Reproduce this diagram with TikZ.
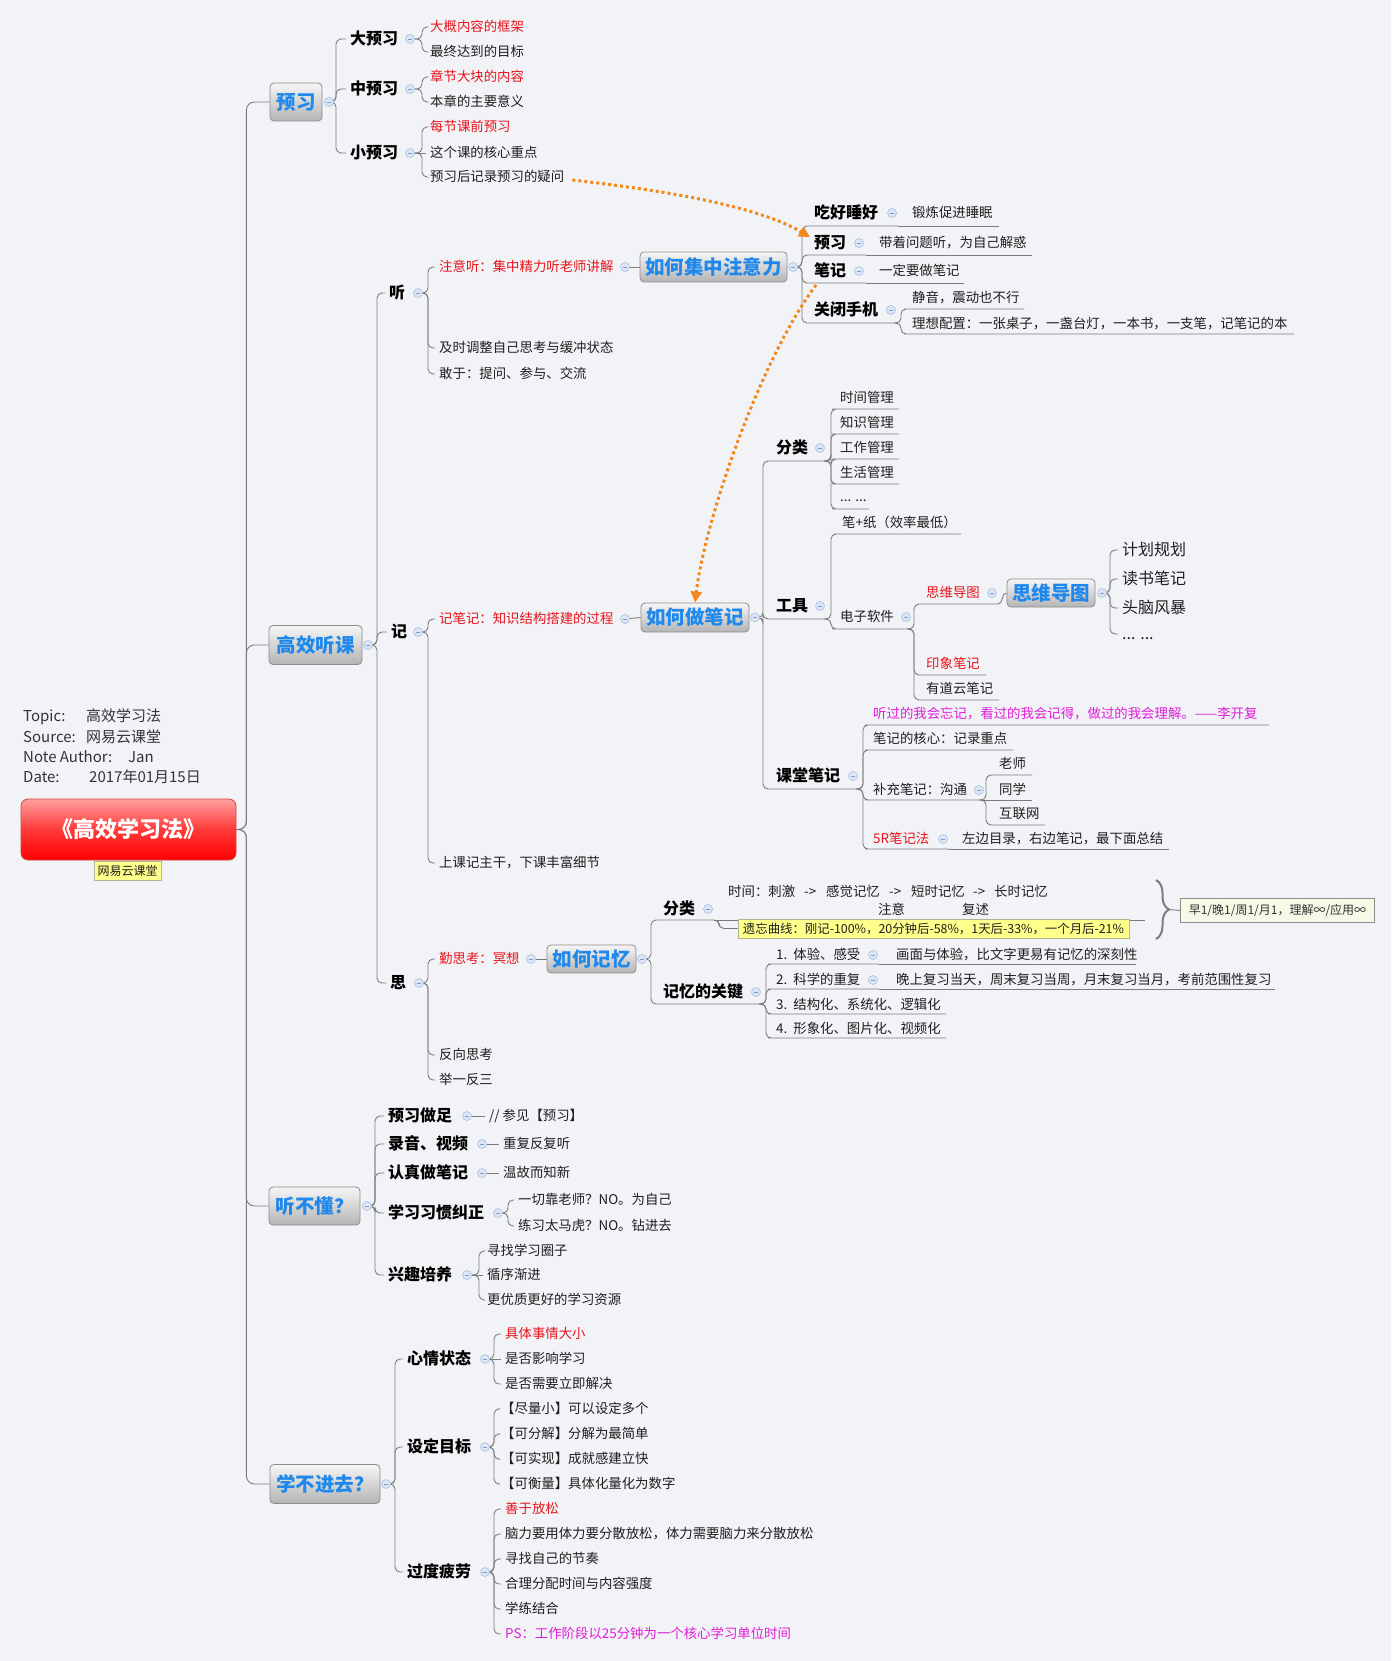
\documentclass[tikz,border=0pt]{standalone}
\usepackage{fontspec}
\setmainfont{Noto Sans CJK SC}
\usetikzlibrary{calc,arrows.meta,decorations.pathreplacing}
\pgfdeclarelayer{back}
\pgfdeclarelayer{lines}
\pgfsetlayers{back,lines,main}
\definecolor{bgc}{HTML}{F2F3F7}
\definecolor{lnc}{HTML}{7C7C7C}
\definecolor{txc}{HTML}{1E1E1E}
\definecolor{redc}{HTML}{E8141C}
\definecolor{magc}{HTML}{E01CD8}
\definecolor{bluec}{HTML}{1E88EC}
\definecolor{orc}{HTML}{F08A1E}
\definecolor{cmf}{HTML}{DCE6F5}
\definecolor{cmd}{HTML}{A8BEE0}
\definecolor{cmm}{HTML}{7F9CCF}
\definecolor{boxt}{HTML}{F6F6F6}
\definecolor{boxb}{HTML}{B4B4B4}
\definecolor{boxd}{HTML}{8C8C8C}
\definecolor{rtop}{HTML}{FF9E9E}
\definecolor{rmid}{HTML}{FF3A3A}
\definecolor{rbot}{HTML}{FF0000}
\definecolor{rdr}{HTML}{C84848}
\definecolor{ylw}{HTML}{FFFF8C}
\definecolor{ylwd}{HTML}{B4B48C}
\definecolor{smf}{HTML}{F8F8E6}
\definecolor{tpc}{HTML}{333333}
\tikzset{
 mmcon/.style={draw=lnc, line width=0.9pt, rounded corners=5pt},
 mmbase/.style={anchor=west, inner sep=0pt},
 mmtx/.style={mmbase, text=txc, font=\fontsize{13.4}{16}\selectfont, text height=11.4pt, text depth=2pt},
 mmbd/.style={mmbase, text=black, font=\fontsize{16}{19}\selectfont\bfseries, text height=13.6pt, text depth=2.4pt},
 mmbg/.style={mmbase, text=txc, font=\fontsize{16}{19}\selectfont, text height=13.6pt, text depth=2.4pt},
 mmtp/.style={mmbase, text=tpc, font=\fontsize{15}{18}\selectfont, text height=12.5pt, text depth=2.5pt},
 mmrd/.style={text=redc}, mmmg/.style={text=magc},
 mmbox/.style={draw=boxd, line width=0.8pt, rounded corners=4pt, top color=boxt, bottom color=boxb, text=bluec, font=\fontsize{19.5}{23}\selectfont\bfseries, inner sep=0pt},
 mmcm/.style={circle, minimum size=9pt, inner sep=0pt, fill=cmf, draw=cmd, line width=0.6pt,
   path picture={\draw[cmm, line width=0.7pt] ([xshift=-2.4pt]path picture bounding box.center) -- ([xshift=2.4pt]path picture bounding box.center);}},
 mmroot/.style={draw=rdr, line width=0.8pt, rounded corners=7pt, top color=rtop, bottom color=rbot, middle color=rmid, text=white, font=\fontsize{22}{26}\selectfont\bfseries, minimum width=215pt, minimum height=61pt, inner sep=0pt},
 mmlbl/.style={fill=ylw, draw=ylwd, line width=0.5pt, text=txc, font=\fontsize{12}{14}\selectfont, minimum width=67pt, minimum height=19pt, inner sep=0pt},
 mmyw/.style={fill=ylw, draw=ylwd, line width=0.6pt, text=txc, font=\fontsize{12.4}{15}\selectfont, minimum width=391pt, minimum height=19pt, inner sep=0pt},
 mmsm/.style={fill=smf, draw=boxd, line width=0.6pt, text=tpc, font=\fontsize{12}{14}\selectfont, minimum width=194pt, minimum height=24pt, inner sep=0pt},
 mmor/.style={draw=orc, line width=3pt, dash pattern=on 3pt off 3pt, -{Triangle[length=11pt,width=11pt]}},
 mmbrc/.style={draw=lnc, line width=2pt, decorate, decoration={brace, amplitude=13pt}},
}
\newcommand\mmPlain[3]{\draw[mmcon] (#1.center) -- ++(#2,0) |- ([xshift=-4pt]#3.west);}
\newcommand\mmStr[2]{\draw[mmcon] (#1.center) -- ([xshift=-4pt]#2.west);}
\newcommand\mmUl[6]{\draw[mmcon] (#1) -- ++(#2,0) |- ($(#3.west)+(-3,#4)$) -- ($(#5,0 |- #3.west)+(0,#4)$) coordinate (#6);}
\begin{document}
\begin{tikzpicture}[x=1pt,y=-1pt]
\begin{pgfonlayer}{back}
\fill[bgc] (0,0) rectangle (1391,1661);
\end{pgfonlayer}
\useasboundingbox (0,0) rectangle (1391,1661);

% ---------- topic info ----------
\node[mmtp] (tpa) at (23,716) {Topic:};
\node[mmtp] (tpav) at (86,716) {高效学习法};
\node[mmtp] (tpb) at (23,737) {Source:};
\node[mmtp] (tpbv) at (86,737) {网易云课堂};
\node[mmtp] (tpc) at (23,757) {Note Author:};
\node[mmtp] (tpcv) at (128,757) {Jan};
\node[mmtp] (tpd) at (23,777) {Date:};
\node[mmtp] (tpdv) at (89,777) {2017年01月15日};

% ---------- root & main boxes ----------
\node[mmroot] (root) at (128.5,829.5) {《高效学习法》};
\node[mmlbl] (lbl) at (127.5,870.5) {网易云课堂};

\node[mmbox, minimum width=52pt, minimum height=38pt] (yx) at (296,102) {预习};
\node[mmbox, minimum width=93pt, minimum height=39pt] (gxtk) at (315.5,645) {高效听课};
\node[mmbox, minimum width=91pt, minimum height=38pt] (tbd) at (314.5,1206) {听不懂？};
\node[mmbox, minimum width=110pt, minimum height=39pt] (xbjq) at (325,1484) {学不进去？};
\node[mmcm] (cyx) at (329,102) {};
\node[mmcm] (cgx) at (368,645) {};
\node[mmcm] (ctbd) at (367,1206) {};
\node[mmcm] (cxbjq) at (386,1484) {};

% ---------- 预习 ----------
\node[mmbd] (dyx) at (350,39) {大预习};
\node[mmbd] (zyx) at (350,89) {中预习};
\node[mmbd] (xyx) at (350,153) {小预习};
\node[mmcm] (cdyx) at (410,39) {};
\node[mmcm] (czyx) at (410,89) {};
\node[mmcm] (cxyx) at (410,153) {};
\node[mmtx,mmrd] (dg1) at (430,27) {大概内容的框架};
\node[mmtx] (dg2) at (430,52) {最终达到的目标};
\node[mmtx,mmrd] (zg1) at (430,77) {章节大块的内容};
\node[mmtx] (zg2) at (430,102) {本章的主要意义};
\node[mmtx,mmrd] (xg1) at (430,127) {每节课前预习};
\node[mmtx] (xg2) at (430,153) {这个课的核心重点};
\node[mmtx] (xg3) at (430,177) {预习后记录预习的疑问};

% ---------- 高效听课 ----------
\node[mmbd] (ting) at (389,293) {听};
\node[mmbd] (ji) at (391,632) {记};
\node[mmbd] (si) at (390,983) {思};
\node[mmcm] (cting) at (418,293) {};
\node[mmcm] (cji) at (418,632) {};
\node[mmcm] (csi) at (419,983) {};
\node[mmtx,mmrd] (ztt) at (439,267) {注意听：集中精力听老师讲解};
\node[mmcm] (cztt) at (625,267) {};
\node[mmtx] (jstz) at (439,348) {及时调整自己思考与缓冲状态};
\node[mmtx] (gy) at (439,374) {敢于：提问、参与、交流};
\node[mmtx,mmrd] (jbj) at (439,619) {记笔记：知识结构搭建的过程};
\node[mmcm] (cjbj) at (625,619) {};
\node[mmtx] (skj) at (439,863) {上课记主干，下课丰富细节};
\node[mmtx,mmrd] (qsk) at (439,959) {勤思考：冥想};
\node[mmcm] (cqsk) at (531,959) {};
\node[mmtx] (fxsk) at (439,1055) {反向思考};
\node[mmtx] (jyfs) at (439,1080) {举一反三};

% ---------- 如何集中注意力 ----------
\node[mmbox, minimum width=147pt, minimum height=30pt] (hjz) at (713.5,267) {如何集中注意力};
\node[mmcm] (chjz) at (793,267) {};
\node[mmbd] (chsh) at (814,213) {吃好睡好};
\node[mmcm] (cchsh) at (892,213) {};
\node[mmtx] (dlcj) at (912,213) {锻炼促进睡眠};
\node[mmbd] (yx2) at (814,243) {预习};
\node[mmcm] (cyx2) at (859,243) {};
\node[mmtx] (dwt) at (879,243) {带着问题听，为自己解惑};
\node[mmbd] (bj2) at (814,271) {笔记};
\node[mmcm] (cbj2) at (859,271) {};
\node[mmtx] (ydzbj) at (879,271) {一定要做笔记};
\node[mmbd] (gbsj) at (814,310) {关闭手机};
\node[mmcm] (cgbsj) at (891,310) {};
\node[mmtx] (jy) at (912,298) {静音，震动也不行};
\node[mmtx] (lxpz) at (912,324) {理想配置：一张桌子，一盏台灯，一本书，一支笔，记笔记的本};

% ---------- 如何做笔记 ----------
\node[mmbox, minimum width=108pt, minimum height=29pt] (hzbj) at (695,617.5) {如何做笔记};
\node[mmcm] (chzbj) at (755,617.5) {};
\node[mmbd] (fl) at (776,448) {分类};
\node[mmcm] (cfl) at (820,448) {};
\node[mmtx] (sjgl) at (840,398) {时间管理};
\node[mmtx] (zsgl) at (840,423) {知识管理};
\node[mmtx] (gzgl) at (840,448) {工作管理};
\node[mmtx] (shgl) at (840,473) {生活管理};
\node[mmtx] (dd1) at (840,497) {... ...};
\node[mmbd] (gj) at (776,606) {工具};
\node[mmcm] (cgj) at (820,606) {};
\node[mmtx] (bz) at (842,523) {笔+纸（效率最低）};
\node[mmtx] (dzrj) at (840,617) {电子软件};
\node[mmcm] (cdzrj) at (906,617) {};
\node[mmtx,mmrd] (swdt) at (926,593) {思维导图};
\node[mmcm] (cswdt) at (992,593) {};
\node[mmbox, minimum width=88pt, minimum height=28pt] (swbox) at (1051,593) {思维导图};
\node[mmcm] (cswbox) at (1102,593) {};
\node[mmbg] (jhgh) at (1122,550) {计划规划};
\node[mmbg] (dsbj) at (1122,579) {读书笔记};
\node[mmbg] (tnfb) at (1122,608) {头脑风暴};
\node[mmbg] (dd2) at (1122,634) {... ...};
\node[mmtx,mmrd] (yxbj) at (926,664) {印象笔记};
\node[mmtx] (ydybj) at (926,689) {有道云笔记};
\node[mmbd] (ktbj) at (776,776) {课堂笔记};
\node[mmcm] (cktbj) at (853,776) {};
\node[mmtx,mmmg] (lkf) at (873,714) {听过的我会忘记，看过的我会记得，做过的我会理解。——李开复};
\node[mmtx] (bjhx) at (873,739) {笔记的核心：记录重点};
\node[mmtx] (bcbj) at (873,790) {补充笔记：沟通};
\node[mmcm] (cbcbj) at (979,790) {};
\node[mmtx] (ls) at (999,764) {老师};
\node[mmtx] (txue) at (999,790) {同学};
\node[mmtx] (hlw) at (999,814) {互联网};
\node[mmtx,mmrd] (wr) at (873,839) {5R笔记法};
\node[mmcm] (cwr) at (943,839) {};
\node[mmtx] (zbml) at (962,839) {左边目录，右边笔记，最下面总结};

% ---------- 如何记忆 ----------
\node[mmbox, minimum width=89pt, minimum height=28pt] (hjy) at (591.5,959) {如何记忆};
\node[mmcm] (chjy) at (642,959) {};
\node[mmbd] (fl2) at (663,909) {分类};
\node[mmcm] (cfl2) at (708,909) {};
\node[mmtx] (sjl) at (728,892) {\makebox[76pt][l]{时间：刺激}\makebox[22pt][l]{->}\makebox[63pt][l]{感觉记忆}\makebox[22pt][l]{->}\makebox[62pt][l]{短时记忆}\makebox[21pt][l]{->}长时记忆};
\node[mmtx] (zy) at (878,910) {注意};
\node[mmtx] (fs) at (962,910) {复述};
\coordinate (sjend) at (1145,920);
\node[mmyw] (yw) at (933.5,928.5) {遗忘曲线：刚记-100\%，20分钟后-58\%，1天后-33\%，一个月后-21\%};
\node[mmsm] (smy) at (1277.5,910.5) {早1/晚1/周1/月1，理解∞/应用∞};
\coordinate (brtip) at (1169,909.5);
\node[mmbd] (jygj) at (663,992) {记忆的关键};
\node[mmcm] (cjygj) at (756,992) {};
\node[mmtx] (k1) at (776,955) {1.\ \ 体验、感受};
\node[mmcm] (ck1) at (873,955) {};
\node[mmtx] (hm) at (896,955) {画面与体验，比文字更易有记忆的深刻性};
\node[mmtx] (k2) at (776,980) {2.\ \ 科学的重复};
\node[mmcm] (ck2) at (873,980) {};
\node[mmtx] (wsfx) at (896,980) {晚上复习当天，周末复习当周，月末复习当月，考前范围性复习};
\node[mmtx] (k3) at (776,1005) {3.\ \ 结构化、系统化、逻辑化};
\node[mmtx] (k4) at (776,1029) {4.\ \ 形象化、图片化、视频化};

% ---------- 听不懂 ----------
\node[mmbd] (yxzz) at (388,1116) {预习做足};
\node[mmcm] (cyxzz) at (467,1116) {};
\node[mmtx] (cjyx) at (489,1116) {// 参见【预习】};
\node[mmbd] (lysp) at (388,1144) {录音、视频};
\node[mmcm] (clysp) at (482,1144) {};
\node[mmtx] (cffft) at (503,1144) {重复反复听};
\node[mmbd] (rzzbj) at (388,1173) {认真做笔记};
\node[mmcm] (crzzbj) at (482,1173) {};
\node[mmtx] (wgzx) at (503,1173) {温故而知新};
\node[mmbd] (xxgj) at (388,1213) {学习习惯纠正};
\node[mmcm] (cxxgj) at (498,1213) {};
\node[mmtx] (yq1) at (518,1200) {一切靠老师？NO。为自己};
\node[mmtx] (yq2) at (518,1226) {练习太马虎？NO。钻进去};
\node[mmbd] (xqpy) at (388,1275) {兴趣培养};
\node[mmcm] (cxqpy) at (467,1275) {};
\node[mmtx] (xz1) at (487,1251) {寻找学习圈子};
\node[mmtx] (xz2) at (487,1275) {循序渐进};
\node[mmtx] (xz3) at (487,1300) {更优质更好的学习资源};

% ---------- 学不进去 ----------
\node[mmbd] (xqzt) at (407,1359) {心情状态};
\node[mmcm] (cxqzt) at (485,1359) {};
\node[mmtx,mmrd] (a1) at (505,1334) {具体事情大小};
\node[mmtx] (a2) at (505,1359) {是否影响学习};
\node[mmtx] (a3) at (505,1384) {是否需要立即解决};
\node[mmbd] (sdmb) at (407,1447) {设定目标};
\node[mmcm] (csdmb) at (485,1447) {};
\node[mmtx] (b1) at (501,1409) {【尽量小】可以设定多个};
\node[mmtx] (b2) at (501,1434) {【可分解】分解为最简单};
\node[mmtx] (b3) at (501,1459) {【可实现】成就感建立快};
\node[mmtx] (b4) at (501,1484) {【可衡量】具体化量化为数字};
\node[mmbd] (gdpl) at (407,1572) {过度疲劳};
\node[mmcm] (cgdpl) at (485,1572) {};
\node[mmtx,mmrd] (g1) at (505,1509) {善于放松};
\node[mmtx] (g2) at (505,1534) {脑力要用体力要分散放松，体力需要脑力来分散放松};
\node[mmtx] (g3) at (505,1559) {寻找自己的节奏};
\node[mmtx] (g4) at (505,1584) {合理分配时间与内容强度};
\node[mmtx] (g5) at (505,1609) {学练结合};
\node[mmtx,mmmg] (g6) at (505,1634) {PS：工作阶段以25分钟为一个核心学习单位时间};

% ================= connectors =================
\begin{pgfonlayer}{lines}
\foreach \n in {yx,gxtk,tbd,xbjq} {\draw[mmcon, rounded corners=8pt] (root.east) -- ++(10,0) |- (\n.west);}
% 预习
\foreach \n in {dyx,zyx,xyx} {\mmPlain{cyx}{7}{\n}}
\mmPlain{cdyx}{12}{dg1} \mmPlain{cdyx}{12}{dg2}
\mmPlain{czyx}{12}{zg1} \mmPlain{czyx}{12}{zg2}
\mmPlain{cxyx}{12}{xg1} \mmStr{cxyx}{xg2} \mmPlain{cxyx}{12}{xg3}
% 高效听课
\foreach \n in {ting,ji,si} {\mmPlain{cgx}{9}{\n}}
\foreach \n in {ztt,jstz,gy} {\mmPlain{cting}{10}{\n}}
\foreach \n in {jbj,skj} {\mmPlain{cji}{10}{\n}}
\foreach \n in {qsk,fxsk,jyfs} {\mmPlain{csi}{9}{\n}}
\draw[mmcon] (cztt.center) -- (hjz.west);
\draw[mmcon] (cjbj.center) -- (hzbj.west);
\draw[mmcon] (cqsk.center) -- (hjy.west);
% 如何集中注意力
\mmUl{chjz.center}{9}{chsh}{13}{898}{chsho}
\draw[mmcon] (chsho) -- ($(999,0 |- dlcj.west)+(0,13)$);
\mmUl{chjz.center}{9}{yx2}{12}{866}{yxtwoo}
\draw[mmcon] (yxtwoo) -- ($(1032,0 |- dwt.west)+(0,12)$);
\mmUl{chjz.center}{9}{bj2}{12}{866}{bjtwoo}
\draw[mmcon] (bjtwoo) -- ($(964,0 |- ydzbj.west)+(0,12)$);
\mmUl{chjz.center}{9}{gbsj}{13}{897}{gbsjo}
\mmUl{gbsjo}{4}{jy}{11}{1024}{jye}
\mmUl{gbsjo}{4}{lxpz}{10}{1294}{lxpze}
% 如何做笔记
\mmUl{chzbj.center}{8}{fl}{13}{827}{flo}
\mmUl{flo}{4}{sjgl}{11}{899}{sjgle}
\mmUl{flo}{4}{zsgl}{11}{899}{zsgle}
\mmUl{flo}{4}{gzgl}{11}{899}{gzgle}
\mmUl{flo}{4}{shgl}{11}{899}{shgle}
\mmUl{flo}{4}{dd1}{12}{869}{ddonee}
\mmUl{chzbj.center}{8}{gj}{13}{827}{gjo}
\mmUl{gjo}{4}{bz}{11}{961}{bze}
\mmUl{gjo}{4}{dzrj}{12}{911}{dzrjo}
\mmUl{dzrjo}{3}{swdt}{11}{998}{swdto}
\draw[mmcon] (swdto) to[out=0,in=180] (swbox.west);
\mmUl{dzrjo}{3}{yxbj}{11}{986}{yxbje}
\mmUl{dzrjo}{3}{ydybj}{11}{999}{ydybje}
\foreach \n in {jhgh,dsbj,tnfb,dd2} {\mmPlain{cswbox}{8}{\n}}
\mmUl{chzbj.center}{8}{ktbj}{13}{859}{ktbjo}
\mmUl{ktbjo}{4}{lkf}{11}{1269}{lkfe}
\mmUl{ktbjo}{4}{bjhx}{11}{1013}{bjhxe}
\mmUl{ktbjo}{4}{bcbj}{10}{983}{bcbjo}
\mmUl{bcbjo}{3}{ls}{11}{1032}{lse}
\draw[mmcon] (bcbjo) -- ($(1032,0 |- txue.west)+(0,10)$);
\mmUl{bcbjo}{3}{hlw}{11}{1045}{hlwe}
\mmUl{ktbjo}{4}{wr}{10}{949}{wro}
\draw[mmcon] (wro) -- ($(1169,0 |- zbml.west)+(0,10)$);
% 如何记忆
\mmUl{chjy.center}{9}{fl2}{11}{714}{fltwoo}
\draw[mmcon] (fltwoo) -- (sjend);
\draw[mmcon] (fltwoo) -- ++(5,0) |- (yw.west);
\mmUl{chjy.center}{9}{jygj}{12}{762}{jygjo}
\mmUl{jygjo}{4}{k1}{9}{879}{kone}
\draw[mmcon] (kone) -- ($(1136,0 |- hm.west)+(0,9)$);
\mmUl{jygjo}{4}{k2}{9}{879}{ktwo}
\draw[mmcon] (ktwo) -- ($(1275,0 |- wsfx.west)+(0,9)$);
\mmUl{jygjo}{4}{k3}{9}{946}{kthree}
\mmUl{jygjo}{4}{k4}{9}{946}{kfour}
\draw[mmcon] (brtip) -- (smy.west);
% 听不懂
\foreach \n in {yxzz,lysp,rzzbj,xxgj,xqpy} {\mmPlain{ctbd}{8}{\n}}
\mmStr{cyxzz}{cjyx} \mmStr{clysp}{cffft} \mmStr{crzzbj}{wgzx}
\mmPlain{cxxgj}{10}{yq1} \mmPlain{cxxgj}{10}{yq2}
\mmPlain{cxqpy}{12}{xz1} \mmStr{cxqpy}{xz2} \mmPlain{cxqpy}{12}{xz3}
% 学不进去
\foreach \n in {xqzt,sdmb,gdpl} {\mmPlain{cxbjq}{9}{\n}}
\mmPlain{cxqzt}{9}{a1} \mmStr{cxqzt}{a2} \mmPlain{cxqzt}{9}{a3}
\foreach \n in {b1,b2,b3,b4} {\mmPlain{csdmb}{9}{\n}}
\foreach \n in {g1,g2,g3,g4,g5,g6} {\mmPlain{cgdpl}{9}{\n}}
\end{pgfonlayer}

% summary brace
\draw[mmbrc] (1156,880) -- (1156,939);

% orange relationship arrows
\draw[mmor] ($(xg3.east)+(8,3)$) .. controls (660,190) and (755,205) .. ($(yx2.west)+(-4,-6)$);
\draw[mmor] ($(bj2.west)+(2,14)$) .. controls (760,360) and (705,520) .. (hzbj.north);
\end{tikzpicture}
\end{document}
